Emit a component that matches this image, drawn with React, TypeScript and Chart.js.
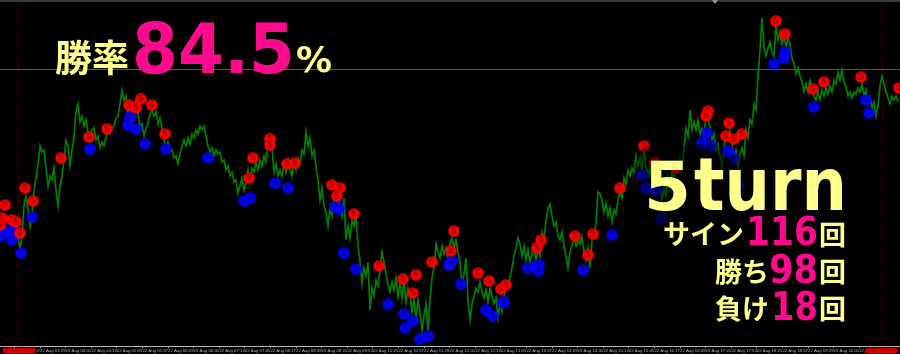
import { useEffect, useRef } from "react";
import { Chart, registerables } from "chart.js";

Chart.register(...registerables);

// One value every second bar, in pips below the top of the window
const closePips = [
  228,222,232,226,236,228,238,232,240,234,
  250,236,205,196,210,226,214,190,178,165,
  146,152,150,168,186,176,180,168,190,206,
  186,176,160,140,146,166,150,138,112,104,
  122,116,126,120,132,136,130,128,140,136,
  148,142,146,138,132,134,128,126,118,116,
  104,90,100,96,116,108,112,104,100,114,
  126,124,136,128,124,114,110,116,112,124,
  118,128,140,146,142,152,150,158,156,164,
  154,146,140,146,138,144,134,138,130,134,
  126,130,126,136,146,152,148,156,150,154,
  152,162,160,170,166,176,172,182,180,193,
  186,178,190,182,170,182,168,172,162,170,
  160,166,156,162,144,150,146,172,164,176,
  170,176,164,172,160,170,176,162,170,158,
  164,150,154,132,146,138,156,150,166,180,
  200,188,206,212,226,208,216,198,208,196,
  204,216,198,240,226,238,220,226,216,244,
  262,284,268,276,262,310,288,296,280,286,
  270,252,262,274,284,292,282,290,278,296,
  284,298,280,302,288,294,312,300,318,300,
  312,330,316,304,330,300,278,268,244,252,
  258,246,254,248,258,244,238,248,240,252,
  262,286,274,258,300,320,304,296,288,292,
  282,292,298,290,302,288,296,304,298,318,
  304,312,296,290,284,278,268,256,248,238,
  244,256,246,260,250,262,254,246,262,250,
  256,232,238,222,208,204,216,226,222,236,
  240,232,246,256,268,252,246,238,246,240,
  244,236,252,260,248,268,240,234,224,192,
  194,200,212,204,216,208,222,210,214,200,
  192,198,178,184,170,176,168,172,156,166,
  158,172,148,166,176,168,182,172,186,176,
  180,200,188,196,178,188,170,180,166,172,
  160,168,150,128,136,110,130,122,130,120,
  134,128,136,116,120,126,140,134,150,144,
  156,170,150,132,140,130,142,158,150,166,
  154,148,156,130,138,120,124,104,110,76,
  50,18,48,56,48,42,52,56,26,40,
  32,44,36,48,38,44,58,64,74,68,
  76,82,92,84,92,80,86,96,100,92,
  100,90,96,88,94,86,92,80,84,72,
  80,70,82,86,96,92,98,92,94,88,
  92,84,96,90,104,98,108,102,116,106,
  86,76,84,92,98,104,96,100,96,102,
];

// Sell signals: bar number and pips
const sellBars = [61,89,107,129,136,141,152,165,270,270,253,287,295,249,25,33,5,2,0,12,16,20,332,340,337,354,379,403,416,413,432,451,454,478,489,501,506,537,541,575,593,588,620,644,655,676,708,706,729,726,734,742,776,785,813,824,861,899];
const sellPips = [158,137,129,105,108,99,105,134,139,145,158,164,163,178,188,201,205,218,225,220,222,233,185,188,196,214,266,279,275,293,262,251,231,273,281,289,285,248,240,236,234,255,188,146,163,168,111,116,123,136,139,134,21,34,89,82,77,88];

// Buy signals: bar number and pips
const buyBars = [90,130,128,136,145,166,208,244,250,275,288,32,21,12,5,10,14,0,344,356,335,339,337,388,404,413,405,420,428,449,452,461,486,493,503,504,528,537,539,538,583,707,702,711,728,733,642,646,656,661,738,612,785,784,774,814,866,869];
const buyPips = [149,117,125,129,144,149,158,201,198,183,188,217,253,240,232,230,231,236,253,269,207,209,206,304,314,321,328,339,336,265,261,284,310,316,303,302,268,266,265,271,270,133,143,146,151,158,175,188,190,219,186,235,52,58,64,107,100,113];

const tickTimes = ["02:57","03:29","04:01","04:33","05:05","05:37","06:09","06:41","07:13","07:45","08:17","08:49","09:21","09:53","10:25","10:57","11:29","12:01","12:33","13:05","13:37","14:09","14:41","15:13","15:45","16:17","16:49","17:21","17:53","18:25","18:57","19:29","20:01","20:33"];
const tickDate = "22 Aug";

const BAR_STEP = 2;
const FIRST_TICK = 14.4;
const TICK_STEP = 25.6;
const LEVEL = 69;
const SESSION_BARS = [18.5, 882.5];

const YELLOW = "#ffff8c";
const PINK = "#ff0a8c";
const CJK = '"Noto Sans CJK JP", sans-serif';
const LATIN = '"DejaVu Sans", sans-serif';

function sprite(fill: string, ink: string) {
  const c = document.createElement("canvas");
  c.width = 13;
  c.height = 13;
  const g = c.getContext("2d")!;
  g.fillStyle = fill;
  g.beginPath();
  g.arc(6.5, 6.5, 5.8, 0, Math.PI * 2);
  g.fill();
  g.fillStyle = ink;
  g.font = "bold 8px " + LATIN;
  g.textAlign = "center";
  g.textBaseline = "middle";
  g.fillText("S", 6.5, 6.8);
  return c;
}

type Piece = { t: string; x: number; y: number; font: string; color: string; w?: number; halo?: boolean };
const pieces: Piece[] = [
  { t: "勝率", x: 55, y: 72, font: "700 37px " + CJK, color: YELLOW },
  { t: "84.5", x: 132, y: 73, font: "700 70px " + LATIN, color: PINK, w: 163 },
  { t: "%", x: 296, y: 72, font: "700 36px " + LATIN, color: YELLOW, w: 40 },
  { t: "5", x: 644, y: 210, font: "700 68px " + LATIN, color: YELLOW, w: 47, halo: true },
  { t: "turn", x: 694, y: 210, font: "700 73px " + LATIN, color: YELLOW, w: 153, halo: true },
  { t: "サイン", x: 663, y: 244, font: "700 27px " + CJK, color: YELLOW, halo: true },
  { t: "116", x: 746, y: 245, font: "700 39px " + LATIN, color: PINK, w: 72, halo: true },
  { t: "回", x: 819, y: 245, font: "700 27px " + CJK, color: YELLOW, halo: true },
  { t: "勝ち", x: 715, y: 282, font: "700 27px " + CJK, color: YELLOW, halo: true },
  { t: "98", x: 769, y: 283, font: "700 39px " + LATIN, color: PINK, w: 49, halo: true },
  { t: "回", x: 819, y: 282, font: "700 27px " + CJK, color: YELLOW, halo: true },
  { t: "負け", x: 715, y: 319, font: "700 27px " + CJK, color: YELLOW, halo: true },
  { t: "18", x: 771, y: 320, font: "700 39px " + LATIN, color: PINK, w: 47, halo: true },
  { t: "回", x: 819, y: 319, font: "700 27px " + CJK, color: YELLOW, halo: true },
];

const chromePlugin = {
  id: "chrome",
  beforeDatasetsDraw(chart: any) {
    const { ctx, scales, chartArea } = chart;
    ctx.save();
    ctx.fillStyle = "#3a3a3a";
    ctx.fillRect(0, 0, chart.width, 2);
    ctx.fillStyle = "#8a94a0";
    ctx.beginPath();
    ctx.moveTo(712, 0);
    ctx.lineTo(718, 0);
    ctx.lineTo(715, 4);
    ctx.fill();
    const ly = Math.round(scales.y.getPixelForValue(LEVEL)) + 0.5;
    ctx.strokeStyle = "#5a5a5a";
    ctx.lineWidth = 1;
    ctx.beginPath();
    ctx.moveTo(chartArea.left, ly);
    ctx.lineTo(chartArea.right, ly);
    ctx.stroke();
    ctx.strokeStyle = "#7a0000";
    ctx.setLineDash([1, 2]);
    SESSION_BARS.forEach((b) => {
      const x = Math.floor(scales.x.getPixelForValue(b)) + 0.5;
      ctx.beginPath();
      ctx.moveTo(x, 2);
      ctx.lineTo(x, chartArea.bottom);
      ctx.stroke();
    });
    ctx.restore();
  },
  afterDraw(chart: any) {
    const { ctx } = chart;
    ctx.save();
    // red session date boxes over the time axis
    ctx.font = "5px " + '"Liberation Sans", sans-serif';
    ctx.textBaseline = "middle";
    ctx.textAlign = "left";
    [[3, 32], [866, 31]].forEach(([x, w]) => {
      ctx.fillStyle = "#e00000";
      ctx.fillRect(x, 348, w, 5);
      ctx.fillStyle = "#900000";
      ctx.fillText("2020.08.22 02:39", x + 1, 350.5, w - 2);
    });
    // the lower-right labels sit on a soft black halo
    ctx.textBaseline = "alphabetic";
    ctx.textAlign = "left";
    ctx.lineJoin = "round";
    ctx.lineWidth = 30;
    ctx.strokeStyle = "rgba(0,0,0,0.35)";
    ctx.shadowColor = "rgba(0,0,0,0.35)";
    ctx.shadowBlur = 10;
    pieces.filter((p) => p.halo).forEach((p) => {
      ctx.font = p.font;
      ctx.strokeText(p.t, p.x, p.y, p.w);
    });
    ctx.shadowBlur = 0;
    ctx.shadowColor = "transparent";
    pieces.forEach((p) => {
      ctx.font = p.font;
      ctx.fillStyle = p.color;
      ctx.fillText(p.t, p.x, p.y, p.w);
    });
    ctx.restore();
  },
};

export default function App() {
  const ref = useRef<HTMLCanvasElement>(null);
  useEffect(() => {
    document.body.style.margin = "0";
    document.body.style.background = "#000";
    const redDot = sprite("#ff0000", "#a00000");
    const blueDot = sprite("#0000ff", "#00009a");
    const chart = new Chart(ref.current!, {
      type: "line",
      data: {
        datasets: [
          {
            label: "Close",
            data: closePips.map((y, i) => ({ x: i * BAR_STEP, y })),
            borderColor: "#007f00",
            borderWidth: 1.7,
            pointRadius: 0,
            tension: 0,
            order: 3,
          },
          {
            label: "Buy",
            data: buyBars.map((x, i) => ({ x, y: buyPips[i] })),
            showLine: false,
            pointStyle: blueDot,
            pointRadius: 6,
            order: 2,
          },
          {
            label: "Sell",
            data: sellBars.map((x, i) => ({ x, y: sellPips[i] })),
            showLine: false,
            pointStyle: redDot,
            pointRadius: 6,
            order: 1,
          },
        ],
      },
      options: {
        animation: false,
        responsive: false,
        devicePixelRatio: 1,
        layout: { padding: 0, autoPadding: false },
        plugins: { legend: { display: false }, tooltip: { enabled: false } },
        scales: {
          x: {
            type: "linear",
            min: 0,
            max: 900,
            afterBuildTicks(scale: any) {
              scale.ticks = tickTimes.map((_, i) => ({ value: FIRST_TICK + i * TICK_STEP }));
            },
            afterFit(scale: any) {
              scale.height = 8;
              scale.paddingLeft = 0;
              scale.paddingRight = 0;
            },
            grid: { display: true, drawOnChartArea: false, drawTicks: true, tickLength: 2, color: "#9a9a9a" },
            border: { display: true, color: "#b8b8b8", width: 1 },
            ticks: {
              autoSkip: false,
              maxRotation: 0,
              minRotation: 0,
              align: "start",
              padding: 0,
              color: "#b4b4b4",
              font: { size: 4.3, family: '"Liberation Sans", sans-serif' },
              callback(_v: any, i: number) {
                return tickDate + " " + tickTimes[i];
              },
            },
          },
          y: { display: false, reverse: true, min: 0, max: 346 },
        },
      },
      plugins: [chromePlugin],
    } as any);
    return () => chart.destroy();
  }, []);
  return (
    <canvas
      ref={ref}
      width={900}
      height={354}
      style={{ position: "fixed", left: 0, top: 0, width: 900, height: 354, background: "#000" }}
    />
  );
}
